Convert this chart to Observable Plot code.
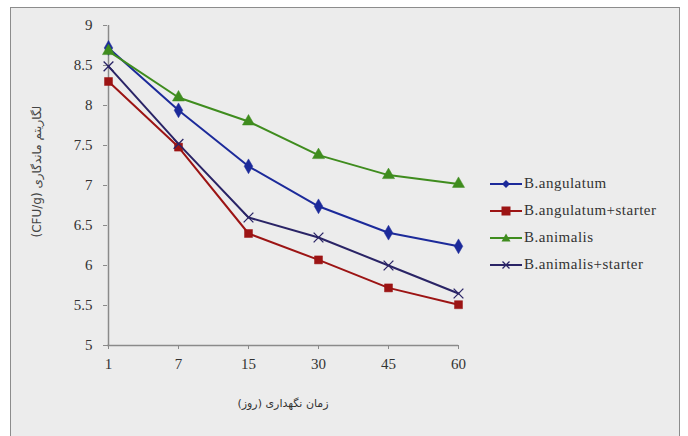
<!DOCTYPE html>
<html><head><meta charset="utf-8">
<script src="https://cdn.jsdelivr.net/npm/d3@7"></script>
<script src="https://cdn.jsdelivr.net/npm/@observablehq/plot@0.6"></script>
<style>
html,body{margin:0;padding:0;background:#fff;}
#wrap{position:relative;width:688px;height:436px;overflow:hidden;background:#fff;}
#frame{position:absolute;left:10px;top:7px;width:670px;height:440px;border:1.5px solid #8c8c8c;border-bottom:none;background:#ececec;box-sizing:border-box;}
#chart{position:absolute;left:0;top:0;}
#legend{position:absolute;left:490px;top:170px;font-family:"Liberation Serif","Times New Roman",Times,serif;font-size:15px;letter-spacing:0.5px;color:#333;}
.row{height:27px;display:flex;align-items:center;white-space:nowrap;}
.row svg{margin-right:2px;}
</style>
</head><body>
<div id="wrap"><div id="frame"></div><div id="chart"></div><div id="legend"></div></div>
<script>
const days = ["1","7","15","30","45","60"];
const yTicks = [5,5.5,6,6.5,7,7.5,8,8.5,9];
const seriesNames = ["B.angulatum","B.angulatum+starter","B.animalis","B.animalis+starter"];
const seriesColors = ["#1c2a9a","#9c1414","#3f8c1e","#2a2466"];
const seriesSymbols = ["diamond","square","triangle","times"];
const angulatum = [8.72,7.94,7.24,6.74,6.41,6.24];
const angulatumStarter = [8.30,7.48,6.40,6.07,5.72,5.51];
const animalis = [8.68,8.10,7.80,7.38,7.13,7.02];
const animalisStarter = [8.49,7.52,6.60,6.35,6.00,5.65];
const xLabel = "زمان نگهداری (روز)";
const yLabel = "لگاریتم ماندگاری (CFU/g)";

const allValues = [angulatum, angulatumStarter, animalis, animalisStarter];
const data = [];
allValues.forEach((vals, si) => vals.forEach((v, i) => data.push({series: seriesNames[si], day: days[i], value: v})));

const serif = "'Liberation Serif','Times New Roman',Times,serif";
const rtl = d => "\u202B" + d + "\u202C";

const chart = Plot.plot({
  width: 688, height: 436,
  marginLeft: 107, marginRight: 230, marginTop: 25, marginBottom: 91,
  style: {background: "transparent", fontFamily: serif, fontSize: "15px", color: "#333"},
  x: {type: "point", domain: days, padding: 0},
  y: {domain: [5, 9]},
  color: {domain: seriesNames, range: seriesColors},
  symbol: {domain: seriesNames, range: seriesSymbols},
  marks: [
    Plot.ruleY([5], {stroke: "#8a8a8a", strokeWidth: 1.5}),
    Plot.ruleX([days[0]], {y1: 5, y2: 9, stroke: "#8a8a8a", strokeWidth: 1.5}),
    Plot.axisY({ticks: yTicks, tickSize: 4, tickPadding: 11, tickFormat: d => String(d), label: null, stroke: "#8a8a8a", fill: "#333", fontSize: 15, fontFamily: serif}),
    Plot.axisX({tickSize: 4, tickPadding: 9, label: null, stroke: "#8a8a8a", fill: "#333", fontSize: 15, fontFamily: serif}),
    Plot.line(data, {x: "day", y: "value", z: "series", stroke: "series", strokeWidth: 2}),
    Plot.dot(data.filter(d => d.series !== seriesNames[3]), {x: "day", y: "value", fill: "series", symbol: "series", r: 4.5, stroke: "series", strokeWidth: 0.5}),
    Plot.dot(data.filter(d => d.series === seriesNames[3]), {x: "day", y: "value", stroke: "series", symbol: "series", r: 4.5, strokeWidth: 1.3}),
    Plot.text([xLabel], {text: rtl, frameAnchor: "bottom", dy: 61, fontSize: 11, fill: "#333", fontFamily: "'DejaVu Sans',sans-serif"}),
    Plot.text([yLabel], {text: rtl, frameAnchor: "left", dx: -70, dy: 52, rotate: -90, fontSize: 12, fill: "#444", fontFamily: "'DejaVu Sans',sans-serif"})
  ]
});
document.getElementById("chart").appendChild(chart);

const legend = document.getElementById("legend");
const symPaths = {
  diamond: "M0,-4L4,0L0,4L-4,0Z",
  square: "M-4.5,-4.5H4.5V4.5H-4.5Z",
  triangle: "M0,-4.5L4.5,3.5H-4.5Z",
  times: "M-3.5,-3.5L3.5,3.5M-3.5,3.5L3.5,-3.5"
};
seriesNames.forEach((name, i) => {
  const c = seriesColors[i];
  const s = seriesSymbols[i];
  const isX = s === "times";
  const row = document.createElement("div");
  row.className = "row";
  row.innerHTML = `<svg width="32" height="14" viewBox="0 0 32 14"><line x1="0" y1="7" x2="32" y2="7" stroke="${c}" stroke-width="2"/><path transform="translate(16,7)" d="${symPaths[s]}" ${isX ? `fill="none" stroke="${c}" stroke-width="1.3"` : `fill="${c}"`}/></svg><span>${name}</span>`;
  legend.appendChild(row);
});
</script>
</body></html>
